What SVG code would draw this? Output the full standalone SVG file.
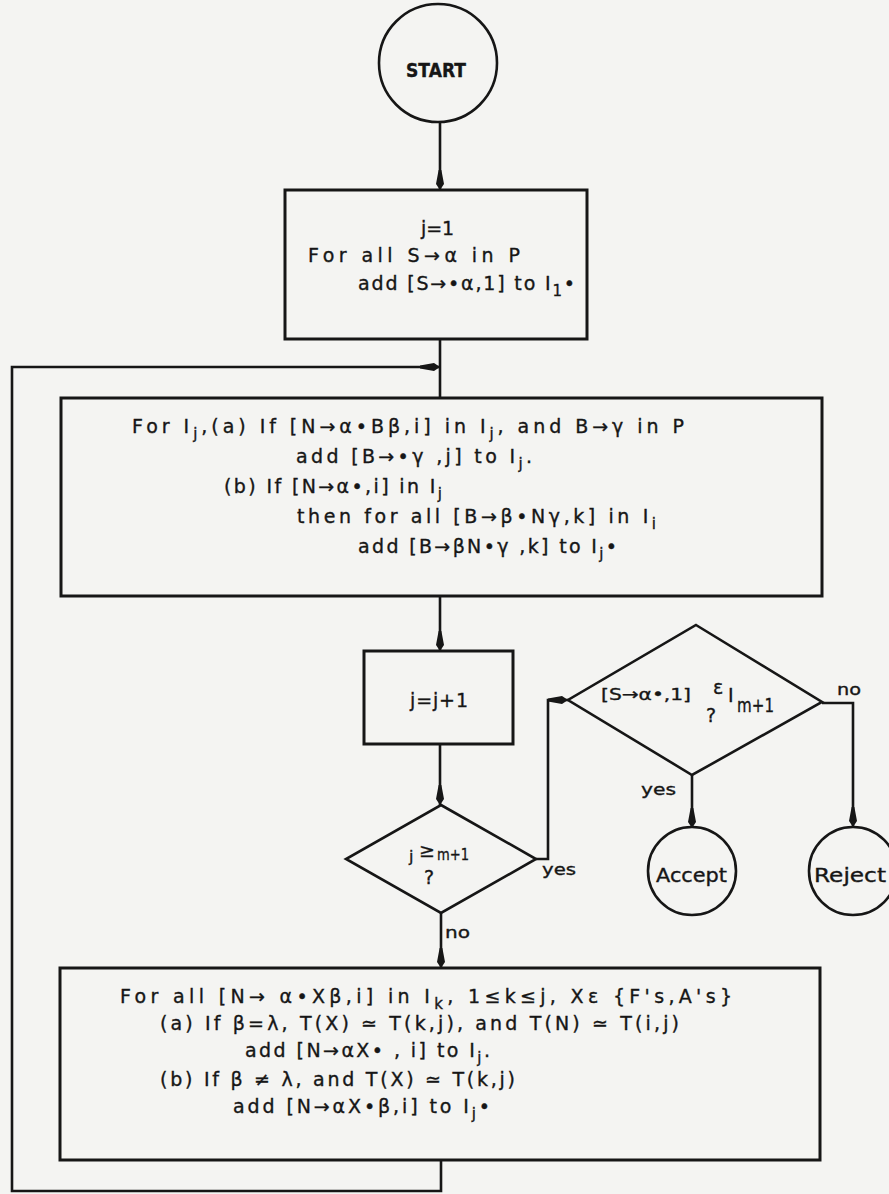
<svg xmlns="http://www.w3.org/2000/svg" width="889" height="1194" viewBox="0 0 889 1194">
<style>
.ln{fill:none;stroke:#161616;stroke-width:2.6;stroke-linejoin:miter}
.bx{fill:none;stroke:#161616;stroke-width:3}
.nd{fill:none;stroke:#161616;stroke-width:2.6}
.t{font-family:"DejaVu Sans","Liberation Sans",sans-serif;font-size:19px;fill:#161616;stroke:#161616;stroke-width:0.35}
.s{font-size:15px}
.d{font-size:16px}
</style>
<defs>
<marker id="ah" viewBox="0 0 20 8" refX="20" refY="4" markerWidth="20" markerHeight="8" markerUnits="userSpaceOnUse" orient="auto">
<path d="M0,2.6 L14,0 L20,4 L14,8 L0,5.4 Z" fill="#161616"/>
</marker>
</defs>
<rect x="0" y="0" width="889" height="1194" fill="#f4f4f2"/>
<g id="connectors">
<path class="ln" d="M440,123 V190" marker-end="url(#ah)"/>
<path class="ln" d="M440,339 V398"/>
<path class="ln" d="M441,1160 V1191 H12 V367 H440" marker-end="url(#ah)"/>
<path class="ln" d="M440,597 V651" marker-end="url(#ah)"/>
<path class="ln" d="M440,744 V805" marker-end="url(#ah)"/>
<path class="ln" d="M536,859 H548 V700 H568" marker-end="url(#ah)"/>
<path class="ln" d="M441,913 V968" marker-end="url(#ah)"/>
<path class="ln" d="M692,775 V828" marker-end="url(#ah)"/>
<path class="ln" d="M822,703 H853 V827" marker-end="url(#ah)"/>
<text class="t d" x="542" y="875" textLength="34" lengthAdjust="spacingAndGlyphs">yes</text>
<text class="t d" x="445" y="938" textLength="25" lengthAdjust="spacingAndGlyphs">no</text>
<text class="t d" x="641" y="795" textLength="35" lengthAdjust="spacingAndGlyphs">yes</text>
<text class="t d" x="837" y="695" textLength="24" lengthAdjust="spacingAndGlyphs">no</text>
</g>
<g id="start">
<circle class="nd" cx="438" cy="63" r="59"/>
<text class="t" x="436" y="77" text-anchor="middle" font-family="Liberation Sans, sans-serif" font-weight="bold" font-size="19" textLength="60" lengthAdjust="spacingAndGlyphs">START</text>
</g>
<g id="init">
<rect class="bx" x="285" y="190" width="302" height="149"/>
<text class="t" x="421" y="235" textLength="33" lengthAdjust="spacing">j=1</text>
<text class="t" x="308" y="262" textLength="212" lengthAdjust="spacing">For all S→α in P</text>
<text class="t" x="358" y="290" textLength="217" lengthAdjust="spacing">add [S→•α,1] to I<tspan class="s" dy="6">1</tspan><tspan dy="-6">•</tspan></text>
</g>
<g id="predict-complete">
<rect class="bx" x="61" y="398" width="761" height="198"/>
<text class="t" x="132" y="433" textLength="552" lengthAdjust="spacing">For I<tspan class="s" dy="6">j</tspan><tspan dy="-6">,(a) If [N→α•Bβ,i] in I</tspan><tspan class="s" dy="6">j</tspan><tspan dy="-6">, and B→γ in P</tspan></text>
<text class="t" x="296" y="463" textLength="236" lengthAdjust="spacing">add [B→•γ ,j] to I<tspan class="s" dy="6">j</tspan><tspan dy="-6">.</tspan></text>
<text class="t" x="224" y="493" textLength="218" lengthAdjust="spacing">(b) If [N→α•,i] in I<tspan class="s" dy="6">j</tspan></text>
<text class="t" x="297" y="523" textLength="359" lengthAdjust="spacing">then for all [B→β•Nγ,k] in I<tspan class="s" dy="6">i</tspan></text>
<text class="t" x="358" y="553" textLength="259" lengthAdjust="spacing">add [B→βN•γ ,k] to I<tspan class="s" dy="6">j</tspan><tspan dy="-6">•</tspan></text>
</g>
<g id="increment">
<rect class="bx" x="364" y="651" width="149" height="93"/>
<text class="t" x="410" y="707" textLength="58" lengthAdjust="spacing">j=j+1</text>
</g>
<g id="test-end">
<polygon class="nd" points="441,805 536,859 441,913 346,859"/>
<text class="t d" x="409" y="862">j</text>
<text class="t" x="419" y="857" font-size="11">≥</text>
<text class="t d" x="437" y="860" textLength="32" lengthAdjust="spacingAndGlyphs">m+1</text>
<text class="t" x="424" y="884" font-size="14">?</text>
</g>
<g id="test-accept">
<polygon class="nd" points="696,625 822,702 692,775 568,700"/>
<text class="t d" x="601" y="700" textLength="90" lengthAdjust="spacingAndGlyphs">[S→α•,1]</text>
<text class="t" x="713" y="694" font-size="12">ε</text>
<text class="t" x="728" y="702" font-size="16">I</text>
<text class="t" x="737" y="712" font-size="15" textLength="37" lengthAdjust="spacingAndGlyphs">m+1</text>
<text class="t" x="706" y="722" font-size="14">?</text>
</g>
<g id="accept">
<circle class="nd" cx="692" cy="871" r="44"/>
<text class="t" x="656" y="882" textLength="71" lengthAdjust="spacingAndGlyphs">Accept</text>
</g>
<g id="reject">
<circle class="nd" cx="853" cy="871" r="44"/>
<text class="t" x="814" y="882" textLength="72" lengthAdjust="spacingAndGlyphs">Reject</text>
</g>
<g id="scan">
<rect class="bx" x="60" y="968" width="760" height="192"/>
<text class="t" x="120" y="1003" textLength="612" lengthAdjust="spacing">For all [N→ α•Xβ,i] in I<tspan class="s" dy="6">k</tspan><tspan dy="-6">,  1≤k≤j, Xε {F's,A's}</tspan></text>
<text class="t" x="160" y="1030" textLength="519" lengthAdjust="spacing">(a) If β=λ, T(X) ≃ T(k,j), and T(N) ≃ T(i,j)</text>
<text class="t" x="245" y="1057" textLength="245" lengthAdjust="spacing">add [N→αX• , i] to I<tspan class="s" dy="6">j</tspan><tspan dy="-6">.</tspan></text>
<text class="t" x="160" y="1086" textLength="355" lengthAdjust="spacing">(b) If β ≠ λ, and T(X) ≃ T(k,j)</text>
<text class="t" x="233" y="1113" textLength="257" lengthAdjust="spacing">add [N→αX•β,i] to I<tspan class="s" dy="6">j</tspan><tspan dy="-6">•</tspan></text>
</g>
</svg>
